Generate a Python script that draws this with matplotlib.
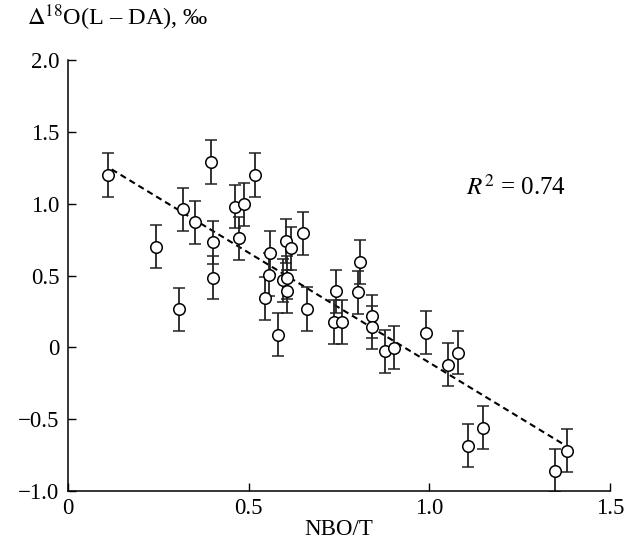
import numpy as np
import matplotlib
matplotlib.use('Agg')
import matplotlib.pyplot as plt

plt.rcParams['font.family'] = ['Liberation Serif', 'DejaVu Serif']
plt.rcParams['mathtext.fontset'] = 'stix'

# NBO/T vs delta 18O (L - DA)
nbo_t = [0.111, 0.245, 0.307, 0.318, 0.351, 0.395, 0.401, 0.401, 0.462, 0.487,
         0.473, 0.518, 0.559, 0.555, 0.546, 0.602, 0.616, 0.650, 0.596, 0.607,
         0.605, 0.582, 0.661, 0.741, 0.737, 0.758, 0.807, 0.803, 0.842, 0.842,
         0.878, 0.903, 0.990, 1.052, 1.079, 1.106, 1.147, 1.348, 1.381]
d18o = [1.20, 0.70, 0.265, 0.96, 0.87, 1.29, 0.73, 0.485, 0.98, 0.995,
        0.76, 1.20, 0.66, 0.505, 0.34, 0.74, 0.69, 0.795, 0.466, 0.485,
        0.39, 0.088, 0.267, 0.39, 0.176, 0.176, 0.594, 0.383, 0.216, 0.141,
        -0.026, -0.002, 0.10, -0.12, -0.037, -0.684, -0.56, -0.86, -0.72]
err = 0.15

x = np.array(nbo_t)
y = np.array(d18o)
k, b = np.polyfit(x, y, 1)
xl = np.array([x.min() + 0.01, x.max() - 0.01])

fig = plt.figure(figsize=(6.29, 5.51), dpi=100)
ax = fig.add_axes([0.108, 0.109, 0.862, 0.782])

ax.plot(xl, k * xl + b, color='black', ls=(0, (3, 2)), lw=1.5, zorder=1)
ax.errorbar(x, y, yerr=err, fmt='o', ms=8.3, mfc='white', mec='black', mew=1.1,
            ecolor='#222222', elinewidth=1.3, capsize=4, capthick=1.3, zorder=2)

ax.set_xlim(0, 1.5)
ax.set_ylim(-1.0, 2.0)
ax.set_xticks([0, 0.5, 1.0, 1.5])
ax.set_xticklabels(['0', '0.5', '1.0', '1.5'])
ax.set_yticks([-1.0, -0.5, 0, 0.5, 1.0, 1.5, 2.0])
ax.set_yticklabels(['\u22121.0', '\u22120.5', '0', '0.5', '1.0', '1.5', '2.0'])
ax.tick_params(direction='in', length=6, width=1, labelsize=16.5)
ax.tick_params(axis='y', pad=6)
ax.tick_params(axis='x', pad=5)
for s in ['top', 'right']:
    ax.spines[s].set_visible(False)
for s in ['left', 'bottom']:
    ax.spines[s].set_linewidth(1.1)

ax.set_xlabel('NBO/T', fontsize=16.5, labelpad=0)
fig.text(0.043, 0.967, '$\\Delta^{18}$O(L \u2013 DA), \u2030', fontsize=17.5, va='center')
ax.text(1.10, 1.11, '$R^2$ = 0.74', fontsize=18, va='center')

fig.savefig('out.png', dpi=100)
